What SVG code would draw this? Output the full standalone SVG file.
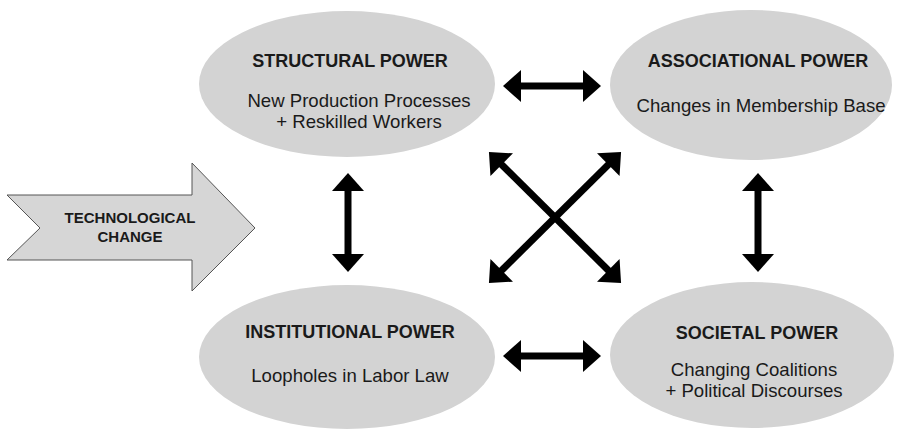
<svg xmlns="http://www.w3.org/2000/svg" width="897" height="430" viewBox="0 0 897 430">
  <defs>
    <style>
      .bubble { fill: #d3d3d3; }
      .title { font-family: "Liberation Sans", Arial, sans-serif; font-weight: bold; font-size: 18px; fill: #1a1a1a; text-anchor: middle; }
      .sub { font-family: "Liberation Sans", Arial, sans-serif; font-size: 18.6px; fill: #1a1a1a; text-anchor: middle; }
      .tech { font-family: "Liberation Sans", Arial, sans-serif; font-weight: bold; font-size: 15px; fill: #1a1a1a; text-anchor: middle; }
      .link { stroke: #000; stroke-width: 7; fill: none; marker-start: url(#head); marker-end: url(#head); }
    </style>
    <marker id="head" markerUnits="userSpaceOnUse" viewBox="0 -17 20 34" refX="1" refY="0" markerWidth="20" markerHeight="34" orient="auto-start-reverse" overflow="visible">
      <path d="M0,-16 L18,0 L0,16 Z" fill="#000"/>
    </marker>
  </defs>

  <rect width="897" height="430" fill="#ffffff"/>

  <!-- driver arrow -->
  <g id="technological-change">
    <polygon points="7,195 192,195 192,163 255,228 192,291 192,260 7,260 40,228" fill="#d6d6d6" stroke="#555" stroke-width="1"/>
    <text class="tech" x="130" y="223">TECHNOLOGICAL</text>
    <text class="tech" x="130" y="242">CHANGE</text>
  </g>

  <g id="structural-power">
    <ellipse class="bubble" cx="347" cy="84" rx="148" ry="73"/>
    <text class="title" x="350" y="67">STRUCTURAL POWER</text>
    <text class="sub" x="359" y="107">New Production Processes</text>
    <text class="sub" x="359" y="128">+ Reskilled Workers</text>
  </g>

  <g id="associational-power">
    <ellipse class="bubble" cx="751" cy="85" rx="141" ry="75"/>
    <text class="title" x="758" y="67">ASSOCIATIONAL POWER</text>
    <text class="sub" x="761" y="112">Changes in Membership Base</text>
  </g>

  <g id="institutional-power">
    <ellipse class="bubble" cx="347" cy="357" rx="148" ry="72"/>
    <text class="title" x="350" y="338">INSTITUTIONAL POWER</text>
    <text class="sub" x="350" y="382">Loopholes in Labor Law</text>
  </g>

  <g id="societal-power">
    <ellipse class="bubble" cx="752" cy="355" rx="142" ry="73"/>
    <text class="title" x="757" y="339">SOCIETAL POWER</text>
    <text class="sub" x="754" y="376">Changing Coalitions</text>
    <text class="sub" x="754" y="397">+ Political Discourses</text>
  </g>

  <!-- two-way links between the four powers -->
  <g id="connectors">
    <line class="link" x1="520" y1="86" x2="584" y2="86"/>
    <line class="link" x1="520" y1="356" x2="584" y2="356"/>
    <line class="link" x1="348" y1="190" x2="348" y2="255"/>
    <line class="link" x1="758" y1="190" x2="758" y2="255"/>
    <line class="link" x1="501" y1="164" x2="609" y2="271"/>
    <line class="link" x1="609" y1="164" x2="501" y2="271"/>
  </g>
</svg>
